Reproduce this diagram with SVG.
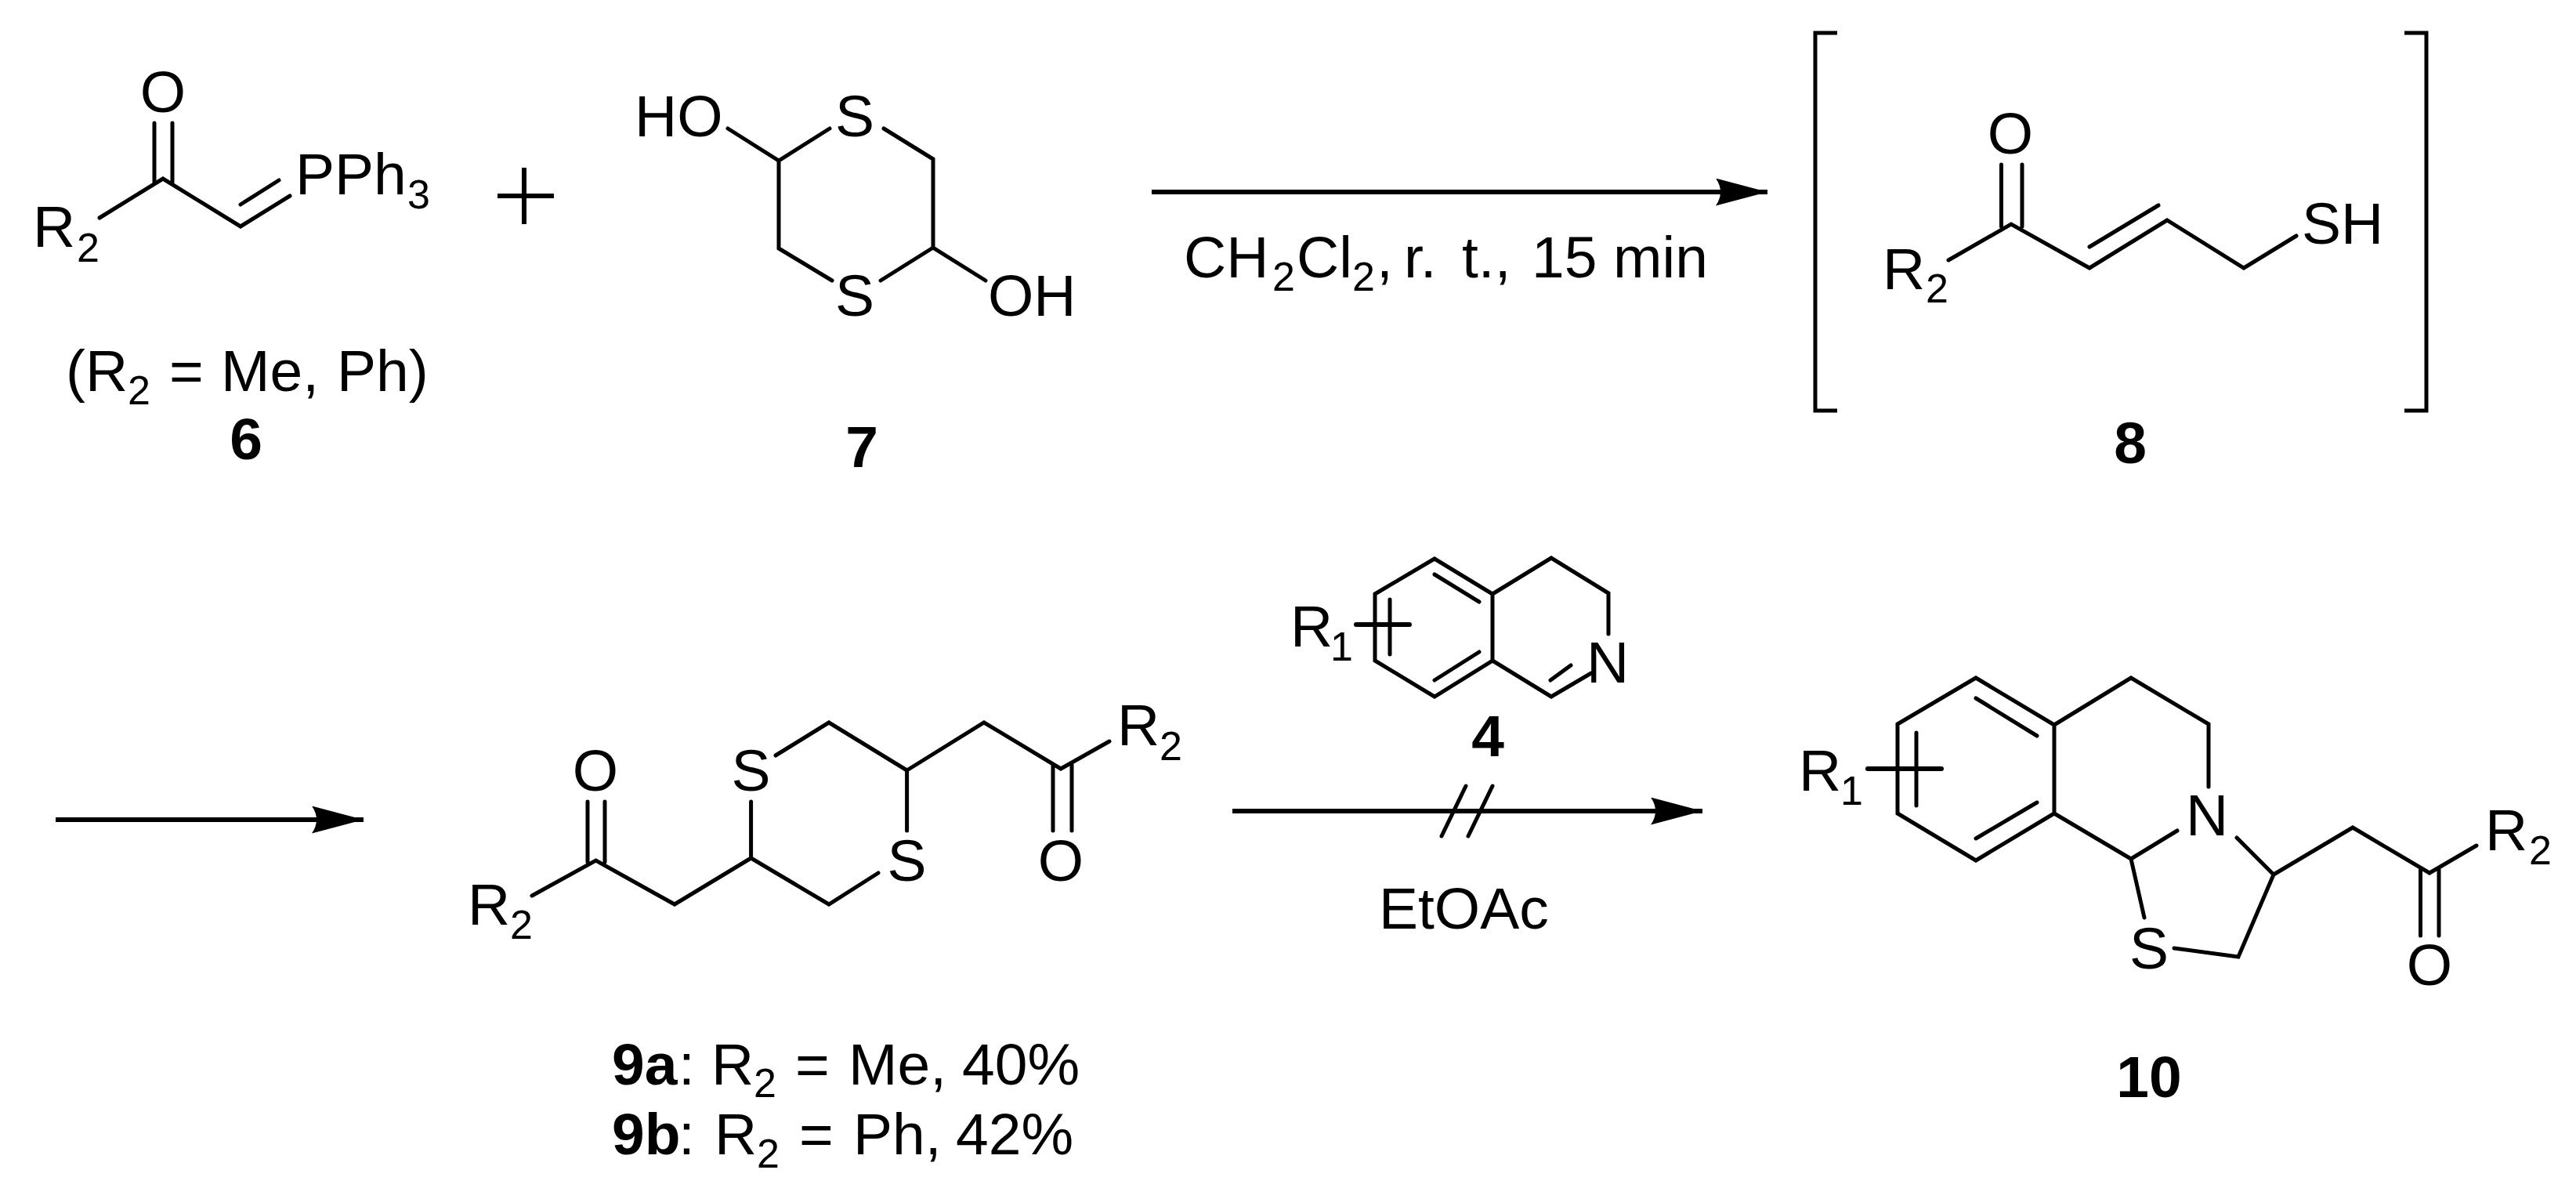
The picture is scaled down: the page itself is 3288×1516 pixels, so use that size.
<svg xmlns="http://www.w3.org/2000/svg" width="3288" height="1516" viewBox="0 0 3288 1516">
<style>
text{font-family:"Liberation Sans",Arial,sans-serif;font-size:75px;fill:#000}
.m{text-anchor:middle}
.b{font-weight:bold}
.s{font-size:52px}
path{fill:none;stroke:#000;stroke-width:5;stroke-linecap:round;stroke-linejoin:miter}
.a{stroke-width:6;stroke-linecap:butt}
.h{fill:#000;stroke:none}
</style>
<defs>
<marker id="ah" markerUnits="userSpaceOnUse" markerWidth="70" markerHeight="40" refX="66" refY="17.5" orient="auto" viewBox="0 0 70 40">
<path class="h" d="M0 0L66 17.5L0 35Q12 17.5 0 0Z"/>
</marker>
</defs>
<rect width="3288" height="1516" fill="#fff"/>
<g id="connectors">
<path class="a" d="M1470 245H2256" marker-end="url(#ah)"/>
<path class="a" d="M71 1046H464" marker-end="url(#ah)"/>
<path class="a" d="M1573 1035H2173" marker-end="url(#ah)"/>
<path d="M1840 1067L1871 1003M1874 1067L1905 1003"/>
</g>
<g id="node-6">
<path d="M127 278L208 228L307 289L370 250M307 261L356 230M197 157V233M220 157V233"/>
<text x="42" y="315">R</text><text class="s" x="98" y="334">2</text>
<text class="m" x="208" y="143">O</text>
<text x="377" y="248">PPh</text><text class="s" x="520" y="266">3</text>
<text x="84" y="499">(R</text><text class="s" x="163" y="516">2</text><text x="216" y="499">=</text><text x="282" y="499">Me,</text><text x="430" y="499">Ph)</text>
<text class="m b" x="314" y="586">6</text>
</g>
<g id="plus"><path style="stroke-width:6;stroke-linecap:butt" d="M635 250H707M669 214V286"/></g>
<g id="node-7">
<path d="M929 164L994 205L1059 164M1128 164L1191 203V316L1258 358M1124 358L1191 316M994 205V317L1062 358"/>
<text x="810" y="174">HO</text>
<text class="m" x="1091" y="174">S</text>
<text class="m" x="1091" y="403">S</text>
<text x="1261" y="403">OH</text>
<text class="m b" x="1100" y="596">7</text>
</g>
<g id="node-8">
<path d="M2487 332L2567 286L2667 342L2766 281L2864 342L2931 301M2667 315L2755 262M2554.5 210V289M2581 210V289"/>
<path style="stroke-linecap:butt" d="M2345 42H2317V524H2345M3069 42H3097V524H3069"/>
<text class="m" x="2566" y="196">O</text>
<text x="2938" y="311">SH</text>
<text x="2403" y="369">R</text><text class="s" x="2458" y="386">2</text>
<text class="m b" x="2719" y="591">8</text>
</g>
<g id="reagent-1">
<text x="1511" y="354">CH</text><text class="s" x="1624" y="371">2</text><text x="1655" y="354">Cl</text><text class="s" x="1726" y="371">2</text><text x="1757" y="354">,</text><text x="1792" y="354">r.</text><text x="1866" y="354">t.,</text><text x="1955" y="354">15</text><text x="2059" y="354">min</text>
</g>
<g id="node-9">
<path d="M679 1143L760.5 1098L861 1154L958.6 1095L1058 1154L1121 1114M958.6 1095V1023M750 1023V1100M772 1023V1100"/>
<path d="M1157.6 1060V983L1058 922L990 964M1157.6 983L1256 922L1354 981L1416 946M1344 976V1060M1368 976V1060"/>
<text x="597" y="1180">R</text><text class="s" x="651" y="1198">2</text>
<text class="m" x="760" y="1009">O</text>
<text class="m" x="958.6" y="1009">S</text>
<text class="m" x="1157.6" y="1124">S</text>
<text class="m" x="1354" y="1124">O</text>
<text x="1426" y="951">R</text><text class="s" x="1480" y="970">2</text>
<text x="781" y="1384"><tspan class="b">9a</tspan></text><text x="866" y="1384">:</text><text x="908" y="1384">R</text><text class="s" x="962" y="1400">2</text><text x="1015" y="1384">=</text><text x="1083" y="1384">Me,</text><text x="1228" y="1384">40%</text>
<text x="781" y="1473"><tspan class="b">9b</tspan></text><text x="866" y="1473">:</text><text x="912" y="1473">R</text><text class="s" x="966" y="1490">2</text><text x="1020" y="1473">=</text><text x="1089" y="1473">Ph,</text><text x="1220" y="1473">42%</text>
</g>
<g id="node-4">
<path d="M1755 758L1831 713L1905 758V843L1831 889L1755 843ZM1905 758L1980 712L2053 757V809M1905 843L1980 889L2031 859M1979 868L2005 849M1831 733L1888 768M1774 765V835M1888 832L1831 868"/>
<path style="stroke-width:6" d="M1731 797H1799"/>
<text x="1647" y="825">R</text><text class="s" x="1698" y="843">1</text>
<text class="m" x="2052" y="871">N</text>
<text class="m b" x="1899" y="965">4</text>
</g>
<text id="reagent-2" x="1760" y="1185">EtOAc</text>
<g id="node-10">
<path d="M2422 924L2522 865L2622 925V1038L2522 1098L2422 1038ZM2622 925L2720 865L2819 924V1004M2622 1038L2720 1096L2779 1060M2720 1096L2737 1171M2775 1210L2857 1221L2902 1116L2855 1069M2902 1116L3003 1056L3101 1114L3161 1079M3089.5 1110V1194M3113 1110V1194M2522 891L2600 939M2446 935V1028M2600 1024L2522 1070"/>
<path style="stroke-width:6" d="M2384 981H2478"/>
<text x="2296" y="1009">R</text><text class="s" x="2349" y="1027">1</text>
<text class="m" x="2817" y="1066">N</text>
<text class="m" x="2743" y="1236">S</text>
<text class="m" x="3101" y="1257">O</text>
<text x="3172" y="1085">R</text><text class="s" x="3228" y="1103">2</text>
<text class="m b" x="2743" y="1400">10</text>
</g>
</svg>
